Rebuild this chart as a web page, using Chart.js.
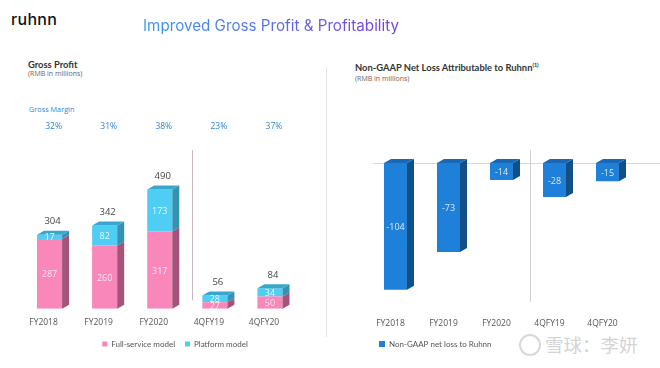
<!DOCTYPE html>
<html><head><meta charset="utf-8">
<script src="https://cdn.jsdelivr.net/npm/chart.js@4/dist/chart.umd.min.js"></script>
<style>
html,body{margin:0;padding:0;background:#fff;width:660px;height:368px;overflow:hidden;font-family:"Open Sans",sans-serif;}
.abs{position:absolute;white-space:nowrap;}
#logo{left:11px;top:9px;font-family:Inter,sans-serif;font-size:16px;font-weight:500;color:#111;letter-spacing:0.3px;}
#title{left:143px;top:16px;font-family:Inter,sans-serif;font-size:15.2px;font-weight:400;background:linear-gradient(90deg,#3A97EE,#5a6ee8 50%,#7A3BDF);-webkit-background-clip:text;background-clip:text;color:transparent;}
.h{font-family:Lato,sans-serif;font-weight:700;font-size:9.4px;color:#333;}
.s{font-size:7px;color:#666;}
#gm{left:29px;top:104px;font-size:7.3px;color:#2E86D6;}
#sep{left:326px;top:67px;width:1px;height:270px;background:#e3e3e3;}
#wm{left:545px;top:331px;font-family:"Noto Sans CJK SC",sans-serif;font-size:18.5px;color:#d4d4d4;}
#wmc{left:519px;top:334px;width:18px;height:18px;border:2px solid #d8d8d8;border-radius:50%;}
canvas{position:absolute;}
</style></head><body>
<div id="logo" class="abs">ruhnn</div>
<div id="title" class="abs">Improved Gross Profit &amp; Profitability</div>
<div class="abs h" style="left:28px;top:59px;">Gross Profit</div>
<div class="abs s" style="left:28px;top:69px;">(RMB in millions)</div>
<div id="gm" class="abs">Gross Margin</div>
<div class="abs h" style="left:355px;top:62px;">Non-GAAP Net Loss Attributable to Ruhnn<sup style="font-size:5.5px;">(1)</sup></div>
<div class="abs s" style="left:355px;top:74px;">(RMB in millions)</div>
<div id="sep" class="abs"></div>
<div id="wmc" class="abs"></div>
<div id="wm" class="abs">雪球：李妍</div>
<div style="position:absolute;left:0;top:0;width:330px;height:368px;"><canvas id="c1" width="330" height="368"></canvas></div>
<div style="position:absolute;left:327px;top:0;width:333px;height:368px;"><canvas id="c2" width="333" height="368"></canvas></div>
<script>
const categories = ['FY2018','FY2019','FY2020','4QFY19','4QFY20'];
const fullService = [287, 260, 317, 27, 50];
const platform = [17, 82, 173, 28, 34];
const grossProfitTotal = [304, 342, 490, 56, 84];
const grossMargin = ['32%','31%','38%','23%','37%'];
const netLoss = [-104, -73, -14, -28, -15];

const cube = {
  id: 'cube',
  afterDatasetsDraw(chart, args, o) {
    const ctx = chart.ctx;
    const n = chart.data.datasets.length;
    ctx.save();
    chart.data.datasets.forEach((ds, di) => {
      const meta = chart.getDatasetMeta(di);
      meta.data.forEach((el) => {
        const p = el.getProps(['x','y','base','width'], true);
        const top = Math.min(p.y, p.base), bot = Math.max(p.y, p.base);
        const l = p.x - p.width/2, r = p.x + p.width/2;
        ctx.fillStyle = o.side[di];
        ctx.beginPath(); ctx.moveTo(r, top); ctx.lineTo(r+o.dx, top-o.dy); ctx.lineTo(r+o.dx, bot-o.dy); ctx.lineTo(r, bot); ctx.closePath(); ctx.fill();
        if (di === n-1) {
          ctx.fillStyle = o.top[di];
          ctx.beginPath(); ctx.moveTo(l, top); ctx.lineTo(l+o.dx, top-o.dy); ctx.lineTo(r+o.dx, top-o.dy); ctx.lineTo(r, top); ctx.closePath(); ctx.fill();
        }
      });
    });
    ctx.restore();
  }
};

const labels = {
  id: 'labels',
  afterDatasetsDraw(chart, args, o) {
    const ctx = chart.ctx;
    ctx.save();
    ctx.textAlign = 'center'; ctx.textBaseline = 'middle';
    ctx.font = '9px "Open Sans"';
    chart.data.datasets.forEach((ds, di) => {
      const meta = chart.getDatasetMeta(di);
      meta.data.forEach((el, i) => {
        const p = el.getProps(['x','y','base'], true);
        ctx.fillStyle = o.inside[di];
        ctx.fillText(String(ds.data[i]), p.x, (p.y + p.base)/2 + 1);
      });
    });
    if (o.totals) {
      const last = chart.getDatasetMeta(chart.data.datasets.length-1);
      ctx.fillStyle = '#444';
      ctx.font = '9.5px "Open Sans"';
      last.data.forEach((el, i) => {
        ctx.fillText(String(o.totals[i]), el.x + 3, el.y - 13);
      });
    }
    if (o.margins) {
      ctx.fillStyle = '#2E86D6';
      ctx.font = '8.5px "Open Sans"';
      const xs = chart.scales.x;
      o.margins.forEach((m, i) => ctx.fillText(m, xs.getPixelForValue(i) + 4, 127));
    }
    const xs = chart.scales.x;
    const dxv = Math.round((xs.getPixelForValue(2) + xs.getPixelForValue(3))/2 + o.divOff) + 0.5;
    ctx.strokeStyle = o.divColor; ctx.lineWidth = 1;
    ctx.beginPath(); ctx.moveTo(dxv, o.divTop); ctx.lineTo(dxv, o.divBot); ctx.stroke();
    ctx.restore();
  }
};

const zeroLine = {
  id: 'zeroLine',
  beforeDatasetsDraw(chart) {
    const ctx = chart.ctx;
    const y0 = Math.round(chart.scales.y.getPixelForValue(0));
    ctx.save();
    ctx.strokeStyle = '#EDCFD3'; ctx.lineWidth = 1;
    ctx.beginPath(); ctx.moveTo(chart.chartArea.left + 4, y0 + 0.5); ctx.lineTo(chart.width, y0 + 0.5); ctx.stroke();
    ctx.restore();
  }
};

const tickFont = {family: '"Open Sans"', size: 8.5};
const legendFont = {family: 'Lato', size: 8};

new Chart(document.getElementById('c1'), {
  type: 'bar',
  data: {
    labels: categories,
    datasets: [
      {label: 'Full-service model', data: fullService, backgroundColor: '#F987B9'},
      {label: 'Platform model', data: platform, backgroundColor: '#4FCDF3'}
    ]
  },
  options: {
    responsive: false, animation: false,
    layout: {padding: {left: 22, right: 2, top: 187, bottom: 10}},
    datasets: {bar: {categoryPercentage: 1, barPercentage: 0.455}},
    scales: {
      x: {stacked: true, grid: {display: false, drawTicks: false}, border: {display: false},
          ticks: {font: tickFont, color: '#555', labelOffset: -6, padding: 9},
          afterFit: s => { s.height -= 7; }},
      y: {stacked: true, position: 'right', min: 0, max: 500, grid: {display: false, drawTicks: false}, border: {display: false},
          ticks: {display: false}, afterFit: s => { s.width = 30.5; }}
    },
    plugins: {
      legend: {position: 'bottom', labels: {boxWidth: 5, boxHeight: 5, padding: 10, font: legendFont, color: '#555'}},
      tooltip: {enabled: false},
      cube: {dx: 7, dy: 4, side: ['#A45478', '#3592B2'], top: ['#A45478', '#3AA6CC']},
      labels: {inside: ['rgba(255,235,245,0.95)', 'rgba(235,250,255,0.95)'], totals: grossProfitTotal, margins: grossMargin,
               divOff: 5, divTop: 150, divBot: 300, divColor: '#C9B9BC'}
    }
  },
  plugins: [cube, labels]
});

new Chart(document.getElementById('c2'), {
  type: 'bar',
  data: {
    labels: categories,
    datasets: [
      {label: 'Non-GAAP net loss to Ruhnn', data: netLoss, backgroundColor: '#1E80D9'}
    ]
  },
  options: {
    responsive: false, animation: false,
    layout: {padding: {left: 42, right: 26, top: 163, bottom: 10}},
    datasets: {bar: {categoryPercentage: 1, barPercentage: 0.434}},
    scales: {
      x: {grid: {display: false, drawTicks: false}, border: {display: false},
          ticks: {font: tickFont, color: '#555', labelOffset: -5, padding: 6},
          afterFit: s => { s.height -= 5; }},
      y: {display: false, min: -123, max: 0}
    },
    plugins: {
      legend: {position: 'bottom', align: 'start', labels: {boxWidth: 6, boxHeight: 6, padding: 10, font: legendFont, color: '#555'}},
      tooltip: {enabled: false},
      cube: {dx: 7, dy: 4, side: ['#124F86'], top: ['#1868B5']},
      labels: {inside: ['rgba(225,238,252,0.95)'], totals: null,
               divOff: 2, divTop: 150, divBot: 302, divColor: '#D0D0D0'}
    }
  },
  plugins: [zeroLine, cube, labels]
});
</script>
</body></html>
